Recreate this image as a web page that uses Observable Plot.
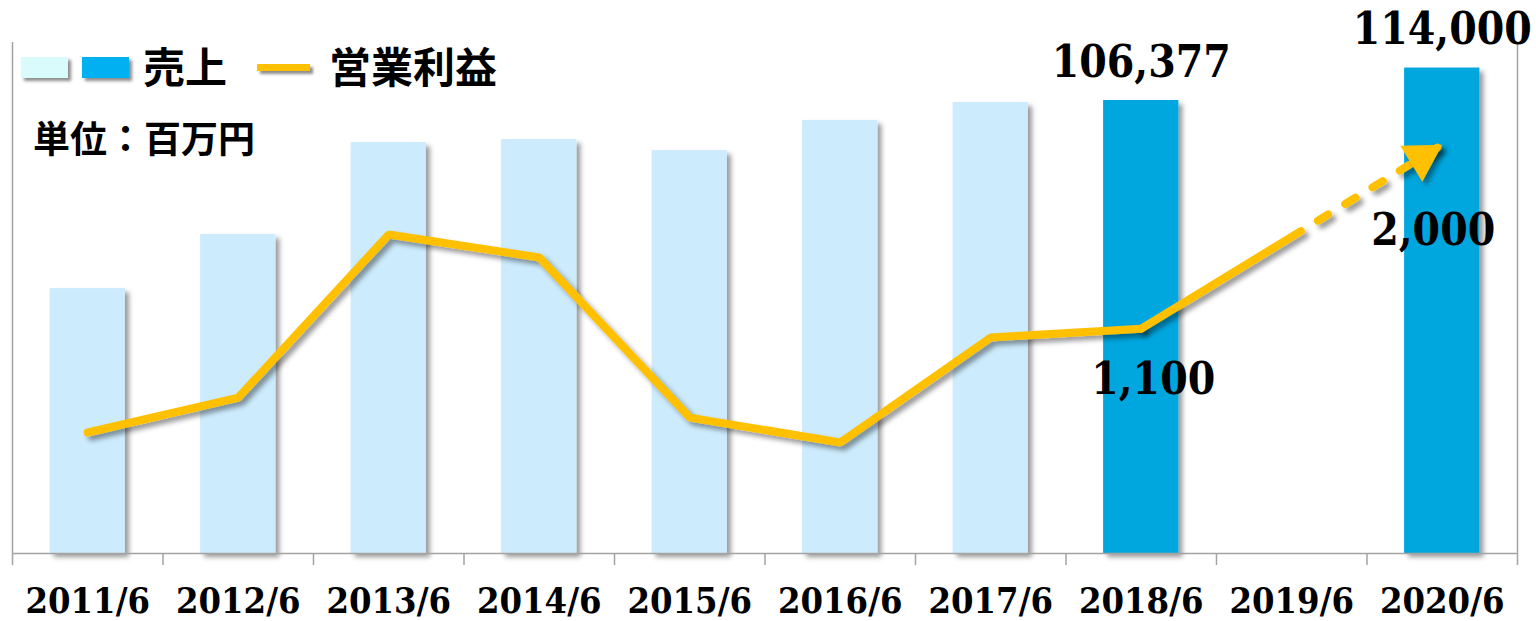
<!DOCTYPE html>
<html><head><meta charset="utf-8">
<script src="https://cdn.jsdelivr.net/npm/d3@7"></script>
<script src="https://cdn.jsdelivr.net/npm/@observablehq/plot@0.6"></script>
<style>
html,body{margin:0;padding:0;background:#fff;}
#wrap{position:relative;width:1536px;height:621px;overflow:hidden;background:#fff;}
#chart{position:absolute;left:0;top:0;}
.lg{position:absolute;font-family:"Noto Sans CJK JP","Noto Sans";font-weight:700;color:#000;line-height:1;white-space:nowrap;}
.sw{position:absolute;box-shadow:3px 3px 3px rgba(0,0,0,0.45);}
</style></head><body>
<div id="wrap"><div id="chart"></div>
<div class="sw" id="sw1" style="left:21px;top:57px;width:47px;height:21px;background:#DAFBFC"></div>
<div class="sw" id="sw2" style="left:82px;top:57px;width:47px;height:21px;background:#00B0F0"></div>
<div class="lg" id="lg1" style="left:143px;top:44px;font-size:42px"></div>
<div class="sw" id="sw3" style="left:257px;top:64px;width:53px;height:7px;background:#FFC000"></div>
<div class="lg" id="lg2" style="left:329px;top:44px;font-size:42px"></div>
<div class="lg" id="lg3" style="left:33px;top:119px;font-size:37px"></div>
</div>
<script>
// ---- data ----
const categories = ["2011/6","2012/6","2013/6","2014/6","2015/6","2016/6","2017/6","2018/6","2019/6","2020/6"];
const sales  = [62200, 74900, 96500, 97200, 94600, 101700, 105900, 106377, null, 114000];
const profit = [592, 763, 1561, 1448, 665, 543, 1057, 1100, null, 2000];
const emphasized = ["2018/6", "2020/6"];
const forecastFrom = "2018/6";
const forecastTo = "2020/6";
const seriesNames = ["売上", "営業利益"];
const unitLabel = "単位：百万円";
const salesMax = 120000;
const profitMax = 2500;

document.getElementById("lg1").textContent = seriesNames[0];
document.getElementById("lg2").textContent = seriesNames[1];
document.getElementById("lg3").textContent = unitLabel;

// ---- layout ----
const W = 1536, H = 621, mL = 12, mR = 19, mT = 42, mB = 68;
const step = (W - mL - mR) / categories.length;
const k = salesMax / profitMax;
const rows = categories.map((c, i) => ({
  cat: c, sales: sales[i], profit: profit[i],
  profitScaled: profit[i] == null ? null : profit[i] * k,
  emph: emphasized.includes(c)
}));
const barRows = rows.filter(d => d.sales != null);
const actualLine = rows.slice(0, categories.indexOf(forecastFrom) + 1);
const forecastLine = rows.filter(d => d.cat === forecastFrom || d.cat === forecastTo);
const tipRow = rows.filter(d => d.cat === forecastTo);
const fromRow = rows.filter(d => d.cat === forecastFrom);
const emphRows = rows.filter(d => d.emph);

const AX = "#A3A3A3";
const serif = "'DejaVu Serif Condensed', 'DejaVu Serif', serif";
const fmt = d3.format(",");

// arrow head geometry (triangle side ~42px, direction of the forecast segment)
const ang = 31.6, side = 42, yy = side / (2 * Math.sqrt(3));
const headR = Math.sqrt(yy * yy * 3 * Math.sqrt(3) / Math.PI);
const rad = ang * Math.PI / 180;

const chart = Plot.plot({
  width: W, height: H,
  marginLeft: mL, marginRight: mR, marginTop: mT, marginBottom: mB,
  style: {background: "#fff", fontStretch: "condensed", overflow: "visible"},
  x: {type: "band", domain: categories, paddingInner: 0.5, paddingOuter: 0.25, align: 0.5, round: false, label: null},
  y: {domain: [0, salesMax], axis: null},
  color: {type: "identity"},
  marks: [
    Plot.barY(barRows, {x: "cat", y: "sales", fill: d => d.emph ? "#00A6DE" : "#CCEBFC"}),
    Plot.ruleY([0], {stroke: AX, strokeWidth: 1.5}),
    Plot.ruleX(categories, {x: d => d, y1: 0, y2: 0, dx: -step / 2, insetBottom: -12, stroke: AX, strokeWidth: 1.5}),
    Plot.ruleX([categories[categories.length - 1]], {x: d => d, y1: 0, y2: 0, dx: step / 2, insetBottom: -12, stroke: AX, strokeWidth: 1.5}),
    Plot.ruleX([categories[0]], {x: d => d, y1: 0, y2: salesMax, dx: -step / 2, stroke: AX, strokeWidth: 1.5}),
    Plot.ruleX([categories[categories.length - 1]], {x: d => d, y1: 0, y2: salesMax, dx: step / 2, stroke: AX, strokeWidth: 1.5}),
    Plot.line(actualLine, {x: "cat", y: "profitScaled", stroke: "#FFC000", strokeWidth: 8, strokeLinejoin: "miter", strokeLinecap: "round"}),
    Plot.line(forecastLine, {x: "cat", y: "profitScaled", stroke: "#FFC000", strokeWidth: 8, strokeLinecap: "round",
      strokeDasharray: "187,20,12,20,12,20,12,20,12,20,12,20,12,40"}),
    Plot.dot(tipRow, {x: "cat", y: "profitScaled", symbol: "triangle", r: headR, rotate: 90 - ang, fill: "#FFC000", stroke: "none",
      dx: -2 * yy * Math.cos(rad), dy: 2 * yy * Math.sin(rad)}),
    Plot.text(emphRows, {x: "cat", y: "sales", text: d => fmt(d.sales), dy: -38, lineAnchor: "middle",
      fontSize: 44, fontWeight: "bold", fontFamily: serif, fill: "#000"}),
    Plot.text(fromRow, {x: "cat", y: "profitScaled", text: d => fmt(d.profit), dx: 12, dy: 51, lineAnchor: "middle",
      fontSize: 44, fontWeight: "bold", fontFamily: serif, fill: "#000"}),
    Plot.text(tipRow, {x: "cat", y: "profitScaled", text: d => fmt(d.profit), dx: -9, dy: 86, lineAnchor: "middle",
      fontSize: 44, fontWeight: "bold", fontFamily: serif, fill: "#000"}),
    Plot.axisX({tickSize: 0, tickPadding: 34, fontSize: 36, fontWeight: "bold", fontFamily: serif, fill: "#000", label: null})
  ]
});

// drop shadows like the original
const svg = d3.select(chart);
const defs = svg.insert("defs", ":first-child");
const f = defs.append("filter").attr("id", "shadow").attr("x", "-20%").attr("y", "-20%").attr("width", "140%").attr("height", "140%");
f.append("feDropShadow").attr("dx", 4).attr("dy", 4).attr("stdDeviation", 2.5).attr("flood-color", "#000").attr("flood-opacity", 0.4);
svg.selectAll('g[aria-label="bar"], g[aria-label="line"], g[aria-label="dot"]').attr("filter", "url(#shadow)");

document.getElementById("chart").appendChild(chart);
</script>
</body></html>
